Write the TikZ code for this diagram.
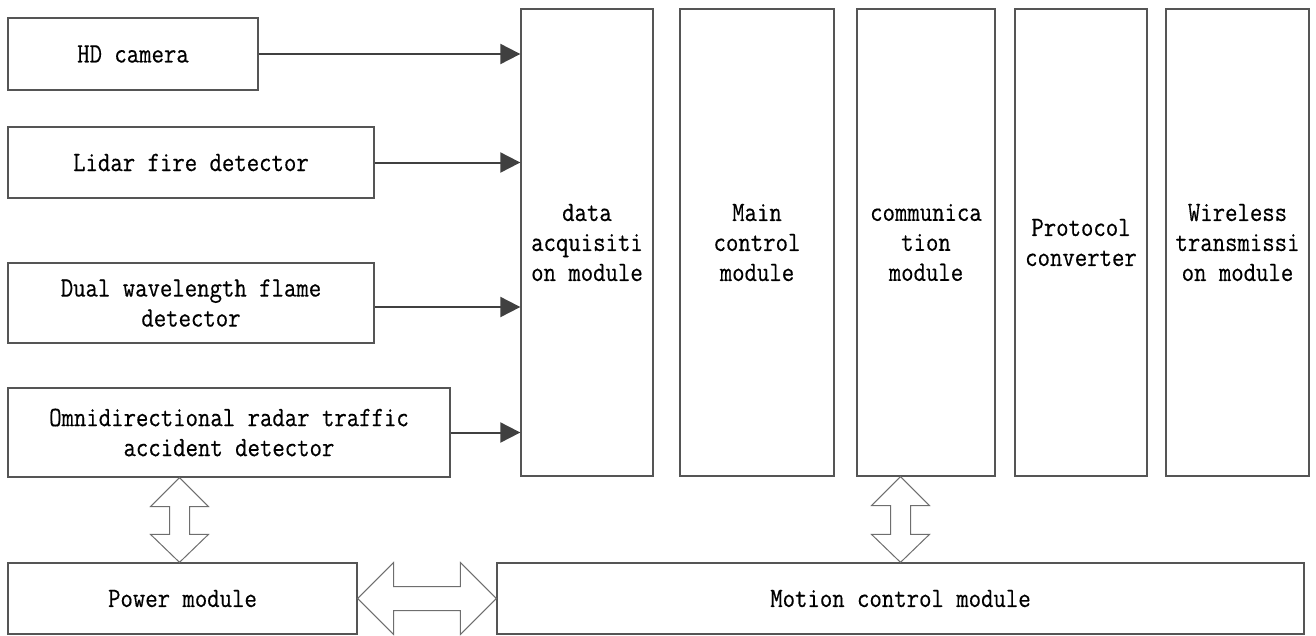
\documentclass[tikz,border=0pt]{standalone}
\usepackage{fontspec}
\usetikzlibrary{arrows.meta,calc}
\newfontfamily\labelfont{Latin Modern Mono}[FakeStretch=0.86,FakeBold=0.4]
\definecolor{boxgray}{HTML}{555555}
\definecolor{arrowgray}{HTML}{404040}
\definecolor{hollowgray}{HTML}{6E6E6E}
\begin{document}
\begin{tikzpicture}[x=1pt,y=-1pt,
  box/.style={draw=boxgray, line width=1.3pt, inner sep=0pt, align=center,
    font=\labelfont\fontsize{28}{30}\selectfont},
  arr/.style={draw=arrowgray, line width=2pt,
    -{Triangle[length=20pt,width=20pt]}},
  hollow/.style={draw=hollowgray, line width=1pt, fill=white, line join=miter}]
\useasboundingbox (0,0) rectangle (1316,635);

% sensors on the left
\node[box, minimum width=250pt, minimum height=72pt] (cam)   at (133,54)    {HD camera};
\node[box, minimum width=366pt, minimum height=71pt] (lidar) at (191,162.5) {Lidar fire detector};
\node[box, minimum width=366pt, minimum height=80pt] (dual)  at (191,303)   {Dual wavelength flame\\detector};
\node[box, minimum width=442pt, minimum height=89pt] (omni)  at (229,432.5) {Omnidirectional radar traffic\\accident detector};

% tall processing modules
\node[box, minimum width=132pt, minimum height=467pt] (daq)   at (587,242.5)  {data\\acquisiti\\on module};
\node[box, minimum width=154pt, minimum height=467pt] (main)  at (757,242.5)  {Main\\control\\module};
\node[box, minimum width=138pt, minimum height=467pt] (comm)  at (926,242.5)  {communica\\tion\\module};
\node[box, minimum width=132pt, minimum height=467pt] (proto) at (1081,242.5) {Protocol\\converter};
\node[box, minimum width=143pt, minimum height=467pt] (wire)  at (1237.5,242.5) {Wireless\\transmissi\\on module};

% bottom row
\node[box, minimum width=349pt, minimum height=71pt] (power)  at (182.5,598.5) {Power module};
\node[box, minimum width=807pt, minimum height=71pt] (motion) at (900.5,598.5) {Motion control module};

% sensor data into the acquisition module
\draw[arr] (cam.east) -- (cam.east -| daq.west);
\draw[arr] (lidar.east) -- (lidar.east -| daq.west);
\draw[arr] ([yshift=-4pt]dual.east) -- ([yshift=-4pt]dual.east -| daq.west);
\draw[arr] (omni.east) -- (omni.east -| daq.west);

% hollow two-way arrows
\coordinate (va1) at ([xshift=-3pt]omni.south -| power.north);
\coordinate (vb1) at ([xshift=-3pt]power.north);
\draw[hollow] (va1) -- ++(29,29) -- ++(-19,0) -- ($(vb1)+(10,-28)$) -- ++(19,0)
  -- (vb1) -- ++(-29,-28) -- ++(19,0) -- ($(va1)+(-10,29)$) -- ++(-19,0) -- cycle;

\coordinate (va2) at (comm.south -| motion.north);
\draw[hollow] (va2) -- ++(29,29) -- ++(-19,0) -- ($(motion.north)+(10,-28)$) -- ++(19,0)
  -- (motion.north) -- ++(-29,-28) -- ++(19,0) -- ($(va2)+(-10,29)$) -- ++(-19,0) -- cycle;

\draw[hollow] (power.east) -- ++(36,-36) -- ++(0,24) -- ($(motion.west)+(-36,-12)$) -- ++(0,-24)
  -- (motion.west) -- ++(-36,36) -- ++(0,-24) -- ($(power.east)+(36,12)$) -- ++(0,24) -- cycle;
\end{tikzpicture}
\end{document}
